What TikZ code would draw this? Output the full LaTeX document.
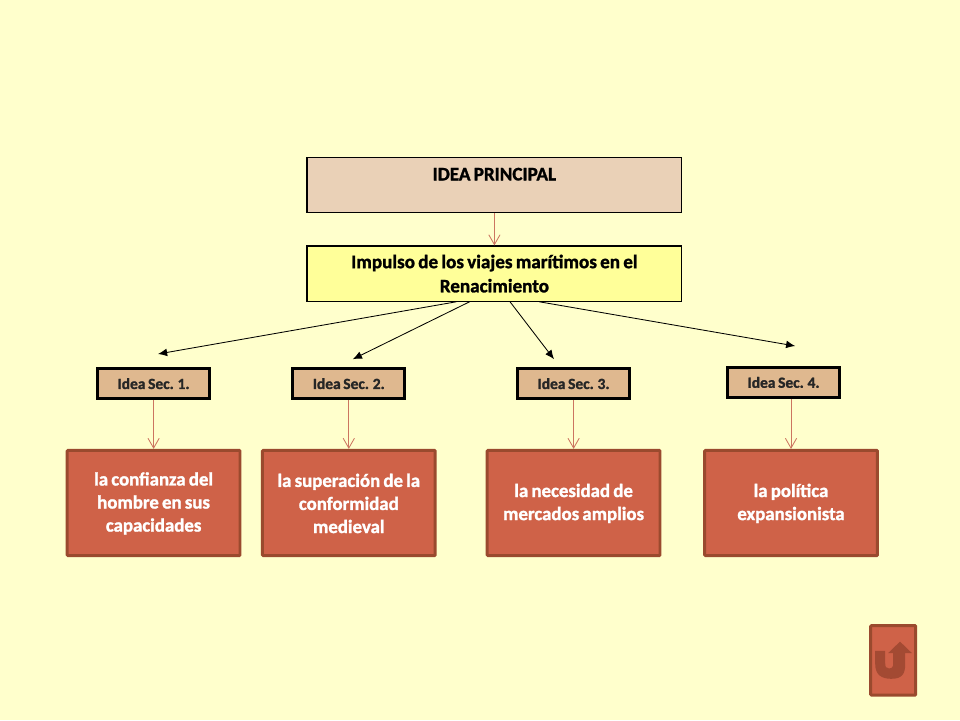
\documentclass[tikz,border=0pt]{standalone}
\usepackage{fontspec}
\setmainfont{Carlito}[WordSpace=0.75,BoldFeatures={FakeBold=1.4}]
\usetikzlibrary{shapes,arrows,arrows.meta}

\definecolor{paper}{HTML}{FFFFCC}
\definecolor{tan1}{HTML}{EAD1B7}
\definecolor{tan2}{HTML}{DFB88F}
\definecolor{lemon}{HTML}{FFFF99}
\definecolor{brick}{HTML}{CF6248}
\definecolor{brickline}{HTML}{9A4A2E}
\definecolor{uturn}{HTML}{A34A33}
\definecolor{link}{HTML}{CC7560}

\tikzset{
  titlebox/.style={draw=black, thick, align=flush center, minimum width=9.37cm, minimum height=1.38cm, text width=9cm, font=\fontsize{13.6}{17.2}\selectfont\bfseries},
  ideabox/.style={draw=black, line width=2.1pt, fill=tan2, minimum width=2.8cm, minimum height=0.75cm, inner sep=0pt, font=\fontsize{11}{12}\selectfont\bfseries, text=black!85},
  factbox/.style={draw=brickline, line width=2.1pt, fill=brick, rounded corners=0.6pt, minimum width=4.32cm, minimum height=2.63cm, inner xsep=0pt, text width=4.1cm, align=flush center, text=white, font=\fontsize{13.4}{16.4}\selectfont\bfseries, execute at begin node={\rule{0pt}{10pt}}},
  redlink/.style={draw=link, line width=0.6pt, -{Straight Barb[length=7pt,width=8pt]}},
  blacklink/.style={draw=black, line width=0.6pt, -{Latex[length=6.5pt,width=5.5pt]}}
}

\begin{document}
\begin{tikzpicture}

\fill [paper] (0,0) rectangle (24,18);
\useasboundingbox (0,0) rectangle (24,18);

\node[titlebox, fill=tan1] (principal) at (12.36,13.38) {IDEA PRINCIPAL\\[-2pt] \mbox{}};
\node[titlebox, fill=lemon] (impulso) at (12.36,11.16) {Impulso de los viajes marítimos en el\\ Renacimiento};

\node[ideabox] (idea1) at (3.84,8.41) {Idea Sec. 1.};
\node[ideabox] (idea2) at (8.72,8.41) {Idea Sec. 2.};
\node[ideabox] (idea3) at (14.34,8.41) {Idea Sec. 3.};
\node[ideabox] (idea4) at (19.59,8.44) {Idea Sec. 4.};

\node[factbox] (fact1) at (3.84,5.425) {la confianza del\\ hombre en sus\\ capacidades};
\node[factbox] (fact2) at (8.72,5.425) {la superación de la\\ conformidad\\ medieval};
\node[factbox] (fact3) at (14.34,5.425) {la necesidad de\\ mercados amplios};
\node[factbox] (fact4) at (19.775,5.425) {la política\\ expansionista};

\node[draw=brickline, line width=2.1pt, fill=brick, rounded corners=0.6pt, minimum width=1.125cm, minimum height=1.74cm] (back) at (22.33,1.49) {};

% free ends of the black arrows
\coordinate (end1) at (3.95,9.15);
\coordinate (end2) at (8.82,9.02);
\coordinate (end3) at (13.85,9.02);
\coordinate (end4) at (19.88,9.35);

\draw [redlink] (principal.south) -- (impulso.north);
\draw [blacklink] ([xshift=-0.95cm]impulso.south) -- (end1);
\draw [blacklink] ([xshift=-0.62cm]impulso.south) -- (end2);
\draw [blacklink] ([xshift=0.39cm]impulso.south) -- (end3);
\draw [blacklink] ([xshift=1.12cm]impulso.south) -- (end4);

\draw [redlink] (idea1.south) -- (fact1.north);
\draw [redlink] (idea2.south) -- (fact2.north);
\draw [redlink] (idea3.south) -- (fact3.north);
\draw [redlink] (fact4.north |- idea4.south) -- (fact4.north);

% u-turn arrow on the button
\fill [uturn] (21.88,1.73) -- (21.88,1.4) .. controls (21.88,1.12) and (22.05,1.03) .. (22.28,1.03)
  .. controls (22.55,1.03) and (22.63,1.15) .. (22.63,1.4) -- (22.63,1.67) -- (22.8,1.67) -- (22.5,1.96) -- (22.2,1.67)
  -- (22.33,1.67) -- (22.33,1.42) .. controls (22.33,1.32) and (22.3,1.29) .. (22.22,1.29)
  .. controls (22.15,1.29) and (22.13,1.33) .. (22.13,1.42) -- (22.13,1.73) -- cycle;

\end{tikzpicture}
\end{document}
